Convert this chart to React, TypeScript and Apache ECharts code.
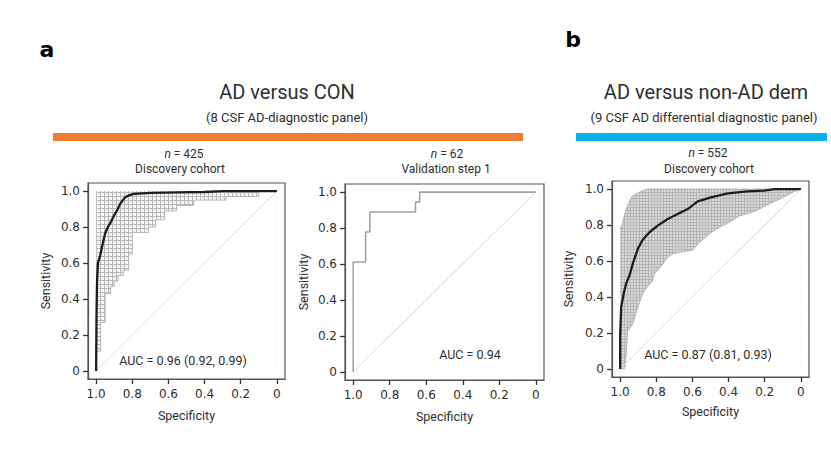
import React, { useEffect, useRef } from 'react';
import * as echarts from 'echarts';

// ---- data ----
const tickValues = [0, 0.2, 0.4, 0.6, 0.8, 1.0];
const diagonal = [[1, 0], [0, 1]];

// Panel a, discovery cohort (n = 425): ROC curve [specificity, sensitivity]
const rocDiscoveryA = [
  [1.0, 0.0], [0.998, 0.3], [0.995, 0.5], [0.99, 0.6], [0.978, 0.64], [0.965, 0.7],
  [0.95, 0.765], [0.935, 0.8], [0.92, 0.825], [0.895, 0.876], [0.88, 0.9], [0.867, 0.93],
  [0.84, 0.965], [0.815, 0.978], [0.79, 0.985], [0.7, 0.99], [0.55, 0.993], [0.4, 0.995],
  [0.3, 1.0], [0.0, 1.0],
];
// bootstrap CI band of sensitivity (panel a)
const ciUpperA = [[1.0, 1.0], [0.1, 1.0], [0.0, 1.0]];
const ciLowerA = [
  [1.0, 0.11], [0.975, 0.11], [0.975, 0.27], [0.95, 0.27], [0.95, 0.43], [0.92, 0.43],
  [0.92, 0.47], [0.9, 0.47], [0.9, 0.5], [0.88, 0.5], [0.88, 0.53], [0.85, 0.53],
  [0.85, 0.56], [0.82, 0.56], [0.82, 0.65], [0.8, 0.65], [0.8, 0.77], [0.71, 0.77],
  [0.71, 0.8], [0.67, 0.8], [0.67, 0.84], [0.62, 0.84], [0.62, 0.89], [0.555, 0.89],
  [0.555, 0.92], [0.46, 0.92], [0.46, 0.95], [0.28, 0.95], [0.28, 0.97], [0.1, 0.97],
  [0.1, 1.0], [0.0, 1.0],
];

// Panel a, validation step 1 (n = 62)
const rocValidationA = [
  [1.0, 0.0], [1.0, 0.611], [0.932, 0.611], [0.932, 0.778], [0.909, 0.778], [0.909, 0.889],
  [0.659, 0.889], [0.659, 0.944], [0.636, 0.944], [0.636, 1.0], [0.0, 1.0],
];

// Panel b, discovery cohort (n = 552)
const rocDiscoveryB = [
  [1.0, 0.0], [1.0, 0.18], [0.994, 0.345], [0.98, 0.42], [0.967, 0.474], [0.948, 0.52],
  [0.93, 0.585], [0.902, 0.668], [0.875, 0.718], [0.838, 0.76], [0.792, 0.797], [0.737, 0.834],
  [0.681, 0.862], [0.626, 0.889], [0.571, 0.932], [0.497, 0.954], [0.405, 0.976], [0.295, 0.987],
  [0.203, 0.991], [0.147, 1.0], [0.0, 1.0],
];
const ciUpperB = [
  [1.0, 0.78], [0.99, 0.8], [0.98, 0.84], [0.97, 0.875], [0.96, 0.905], [0.95, 0.93],
  [0.935, 0.96], [0.91, 0.975], [0.88, 0.99], [0.85, 1.0], [0.0, 1.0],
];
const ciLowerB = [
  [1.0, 0.0], [0.975, 0.0], [0.967, 0.07], [0.958, 0.21], [0.93, 0.25], [0.912, 0.31],
  [0.893, 0.37], [0.875, 0.42], [0.847, 0.46], [0.82, 0.49], [0.81, 0.53], [0.774, 0.57],
  [0.737, 0.62], [0.709, 0.64], [0.663, 0.65], [0.6, 0.66], [0.564, 0.7], [0.508, 0.75],
  [0.453, 0.786], [0.398, 0.814], [0.343, 0.85], [0.25, 0.878], [0.177, 0.917], [0.105, 0.95],
  [0.01, 1.0], [0.0, 1.0],
];

const FONT = 'Roboto';
const TICKFONT = 'DejaVu Sans';
const TXT = '#2e2e2e';
const FRAME = '#555';

const meshSvg = (size: number, line: string, bg: string) =>
  'data:image/svg+xml;charset=utf-8,' +
  encodeURIComponent(
    `<svg xmlns="http://www.w3.org/2000/svg" width="${size}" height="${size}">` +
      `<rect width="${size}" height="${size}" fill="${bg}"/>` +
      `<path d="M0 0.5H${size}M0.5 0V${size}" stroke="${line}" stroke-width="1"/></svg>`
  );

const meshA = { image: meshSvg(4, '#b9b9b9', '#f4f4f4'), repeat: 'repeat', imageWidth: 4, imageHeight: 4 };
const meshB = { image: meshSvg(3, '#b6b6b6', '#d9d9d9'), repeat: 'repeat', imageWidth: 3, imageHeight: 3 };

const fmt = (v: number) => (v === 0 ? '0' : v.toFixed(1));

const axisLine = { show: true, onZero: false, lineStyle: { color: FRAME, width: 1.2 } };
const axisTick = { show: true, inside: false, length: 5, customValues: tickValues, lineStyle: { color: '#333', width: 1.3 } };

function xAxis(gi: number, gap: number) {
  return {
    type: 'value', gridIndex: gi, min: -0.045, max: 1.045, inverse: true, position: 'bottom',
    axisLine, splitLine: { show: false }, axisTick,
    axisLabel: { customValues: tickValues, formatter: fmt, margin: 9, fontSize: 12, color: TXT, fontFamily: TICKFONT },
    name: 'Specificity', nameLocation: 'middle', nameGap: gap,
    nameTextStyle: { fontSize: 12.5, color: TXT, fontFamily: FONT },
  };
}
function yAxis(gi: number, gap: number) {
  return {
    type: 'value', gridIndex: gi, min: -0.045, max: 1.045, position: 'left',
    axisLine, splitLine: { show: false }, axisTick,
    axisLabel: { customValues: tickValues, formatter: fmt, margin: 8, fontSize: 12, color: TXT, fontFamily: TICKFONT },
    name: 'Sensitivity', nameLocation: 'middle', nameGap: gap,
    nameTextStyle: { fontSize: 12.5, color: TXT, fontFamily: FONT },
  };
}

function lineSeries(gi: number, data: number[][], color: string, width: number, z: number, extra: any = {}) {
  return {
    type: 'line', xAxisIndex: gi, yAxisIndex: gi, data, symbol: 'none', silent: true, z,
    lineStyle: { color, width }, ...extra,
  };
}

function txt(x: number, y: number, text: string, size: number, extra: any = {}) {
  return {
    type: 'text', x, y, z: 100, silent: true,
    style: { text, fontSize: size, fontFamily: FONT, fill: TXT, align: 'center', verticalAlign: 'middle', ...extra },
  };
}
function nText(x: number, y: number, n: string) {
  return txt(x, y, `{i|n} = ${n}`, 12, { rich: { i: { fontStyle: 'italic', fontSize: 12, fontFamily: FONT, fill: TXT } } });
}

export default function App() {
  const ref = useRef<HTMLDivElement>(null);
  useEffect(() => {
    if (!ref.current) return;
    const chart = echarts.init(ref.current, undefined, { renderer: 'svg' });
    const gridStyle = { show: true, borderColor: FRAME, borderWidth: 1.2, backgroundColor: 'transparent' };
    chart.setOption({
      animation: false,
      grid: [
        { left: 88, top: 183, width: 197, height: 196, ...gridStyle },
        { left: 345, top: 184, width: 199, height: 196, ...gridStyle },
        { left: 612, top: 181, width: 197, height: 196, ...gridStyle },
      ],
      xAxis: [xAxis(0, 30), xAxis(1, 30), xAxis(2, 28)],
      yAxis: [yAxis(0, 36), yAxis(1, 35), yAxis(2, 37)],
      series: [
        // panel a discovery
        lineSeries(0, ciUpperA, '#c2c2c2', 0, 1, { areaStyle: { color: meshA, opacity: 1, origin: 0 } }),
        lineSeries(0, ciLowerA, '#b8b8b8', 1, 2, { areaStyle: { color: '#ffffff', opacity: 1, origin: 0 } }),
        lineSeries(0, diagonal, '#d9d9d9', 1, 3),
        lineSeries(0, rocDiscoveryA, '#1c1c1c', 2.3, 4),
        // panel a validation
        lineSeries(1, diagonal, '#d9d9d9', 1, 3),
        lineSeries(1, rocValidationA, '#a3a3a3', 1.6, 4),
        // panel b discovery
        lineSeries(2, ciUpperB, '#b5b5b5', 1, 1, { areaStyle: { color: meshB, opacity: 1, origin: 0 } }),
        lineSeries(2, ciLowerB, '#b5b5b5', 1, 2, { areaStyle: { color: '#ffffff', opacity: 1, origin: 0 } }),
        lineSeries(2, diagonal, '#d9d9d9', 1, 3),
        lineSeries(2, rocDiscoveryB, '#1c1c1c', 2.3, 4),
      ],
      graphic: [
        txt(47, 49, 'a', 22, { fontFamily: 'DejaVu Sans', fontWeight: 'bold', fill: '#000' }),
        txt(573, 39, 'b', 22, { fontFamily: 'DejaVu Sans', fontWeight: 'bold', fill: '#000' }),
        txt(287, 92, 'AD versus CON', 20),
        txt(287, 117, '(8 CSF AD-diagnostic panel)', 13),
        txt(706, 92, 'AD versus non-AD dem', 20),
        txt(704, 117, '(9 CSF AD differential diagnostic panel)', 13),
        { type: 'rect', z: 100, silent: true, shape: { x: 53, y: 133, width: 470, height: 8 }, style: { fill: '#EE7D2F' } },
        { type: 'rect', z: 100, silent: true, shape: { x: 576, y: 133, width: 251, height: 8 }, style: { fill: '#0AB0EC' } },
        nText(184, 154, '425'),
        txt(180, 169, 'Discovery cohort', 12),
        nText(447, 154, '62'),
        txt(446, 169, 'Validation step 1', 12),
        nText(708, 153, '552'),
        txt(709, 169, 'Discovery cohort', 12),
        txt(183, 360, 'AUC = 0.96 (0.92, 0.99)', 12.5),
        txt(470, 354, 'AUC = 0.94', 12.5),
        txt(708, 354, 'AUC = 0.87 (0.81, 0.93)', 12.5),
      ],
    });
    return () => chart.dispose();
  }, []);
  return <div ref={ref} style={{ position: 'absolute', left: 0, top: 0, width: 831, height: 450, background: '#fff' }} />;
}
